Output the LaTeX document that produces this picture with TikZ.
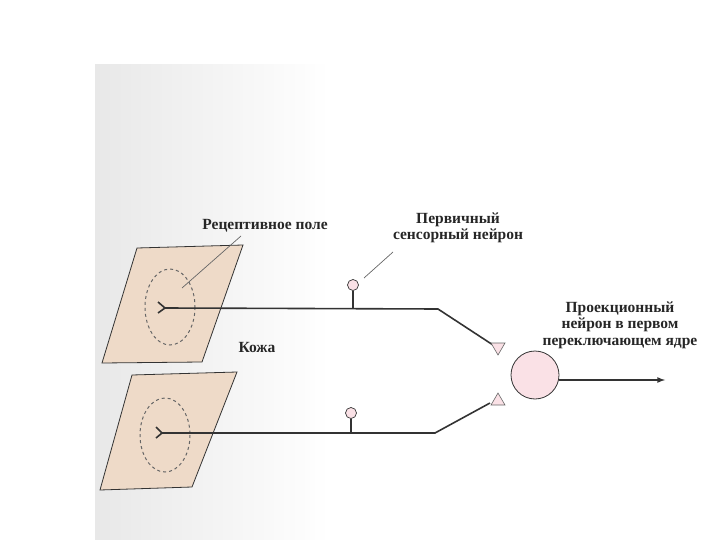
\documentclass[tikz,border=0pt]{standalone}
\usepackage{fontspec}
\setmainfont{Liberation Serif}
\begin{document}
\begin{tikzpicture}[x=1pt,y=-1pt,
 skin/.style={draw=black!80,fill={rgb,255:red,238;green,218;blue,200},line width=0.8pt},
 field/.style={draw=black!60,dashed,line width=1pt},
 axon/.style={draw=black!80,line width=1.6pt},
 thin/.style={draw=black!60,line width=0.7pt},
 soma/.style={circle,draw=black!80,fill={rgb,255:red,250;green,225;blue,230},inner sep=0pt,minimum size=11pt,line width=0.7pt},
 term/.style={draw=black!60,fill={rgb,255:red,250;green,225;blue,230},line width=0.6pt},
 lbl/.style={font=\bfseries\fontsize{15.5}{16.5}\selectfont,align=center,text=black!85}]
\useasboundingbox (0,0) rectangle (720,540);
\shade[left color=black!9,right color=white] (95,65) rectangle (330,540);
% skin patches
\draw[skin] (137,248) -- (243,245) -- (202,362) -- (102,363) -- cycle;
\draw[skin] (132,375) -- (237,372) -- (192,487) -- (100,490) -- cycle;
\draw[field] (170,307) ellipse (25 and 38);
\draw[field] (165,435) ellipse (25 and 37);
% neurons
\coordinate (y1) at (165,308);
\coordinate (b1) at (438,309);
\coordinate (e1) at (493,345);
\coordinate (y2) at (162,433);
\coordinate (b2) at (435,433);
\coordinate (e2) at (490,403);
\draw[axon] (y1) -- (b1) -- (e1);
\draw[axon] (y2) -- (b2) -- (e2);
\draw[axon] (158,302) -- (y1) -- (158,313);
\draw[axon] (156,427) -- (y2) -- (156,438);
\node[soma] (s1) at (353,285) {};
\node[soma] (s2) at (351,413) {};
\coordinate (j1) at (353,309);
\coordinate (j2) at (351,433);
\draw[axon,line width=1.2pt] (s1) -- (j1);
\draw[axon,line width=1.2pt] (s2) -- (j2);
\draw[term] (491,343) -- (505,343) -- (498,355) -- cycle;
\draw[term] (491,405) -- (505,405) -- (498,393) -- cycle;
\node[circle,draw=black!80,fill={rgb,255:red,250;green,225;blue,230},minimum size=48pt,line width=0.8pt] (M) at (535,375) {};
\coordinate (out) at (665,380);
\draw[axon,-latex] (M.east|-out) -- (out);
% labels
\node[lbl] (rp) at (265,226) {Рецептивное поле};
\node[lbl] (pn) at (458,228) {Первичный\\сенсорный нейрон};
\node[lbl] (kz) at (257,347) {Кожа};
\node[lbl] (pr) at (620,325) {Проекционный\\нейрон в первом\\переключающем ядре};
\coordinate (r0) at (241,236); \coordinate (r1) at (182,288);
\draw[thin] (r0) -- (r1);
\coordinate (p0) at (393,252); \coordinate (p1) at (364,278);
\draw[thin] (p0) -- (p1);
\end{tikzpicture}
\end{document}
